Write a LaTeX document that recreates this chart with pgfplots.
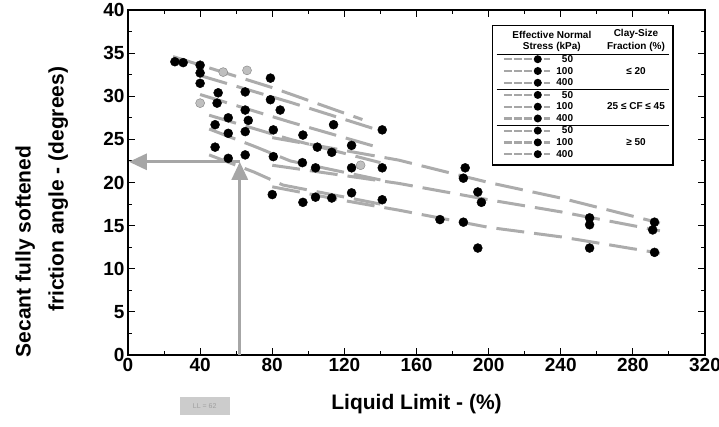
\documentclass[border=0pt]{standalone}
\usepackage{fontspec}
\setmainfont{Liberation Sans}
\usepackage{pgfplots}
\pgfplotsset{compat=1.18}
\usetikzlibrary{arrows.meta}

% measured points (liquid limit %, secant friction angle deg)
\pgfplotstableread{
ll phi
26 34.0
30.6 33.9
40 33.6
40 32.7
40 31.5
79 32.1
79 29.6
50 30.4
65 30.5
49.4 29.2
65 28.4
84.4 28.4
55.6 27.5
66.7 27.2
114 26.7
141 26.1
48.3 26.7
55.6 25.7
65 25.9
80.6 26.1
97 25.5
105 24.1
124 24.3
113 23.5
48.3 24.1
55.6 22.8
65 23.2
80.6 23.0
96.7 22.3
104 21.7
124 21.7
141 21.7
80 18.6
97 17.7
104 18.3
113 18.2
124 18.8
141 18.0
187 21.7
186 20.5
194 18.9
196 17.7
173 15.7
186 15.4
194 12.4
256 15.9
256 15.1
256 12.4
292 15.4
291 14.5
292 11.9
}\blackpts

\pgfplotstableread{
ll phi
52.8 32.8
66 33.0
40 29.2
129 22.0
}\greypts

\newcommand{\lsam}{\tikz[baseline=-0.6ex]{\draw[gray!70,line width=2.2pt,dash pattern=on 8pt off 2pt] (0,0)--(46pt,0); \fill (34pt,0) circle (4pt);}}

\begin{document}
\begin{tikzpicture}
\begin{axis}[
    width=577pt, height=345pt, scale only axis,
    xmin=0, xmax=320, ymin=0, ymax=40,
    clip=false,
    xtick={0,40,...,320}, ytick={0,5,...,40},
    minor x tick num=1, minor y tick num=1,
    major tick length=7pt, minor tick length=4pt,
    tick style={black, line width=1pt},
    axis line style={line width=1.3pt},
    ticklabel style={font=\fontsize{19}{19}\bfseries},
    /pgf/number format/assume math mode=true,
    xlabel={Liquid Limit - (\%)},
    xlabel style={font=\fontsize{21}{21}\bfseries, at={(axis description cs:0.5,-0.105)}, anchor=north},
    trend/.style={gray!65, line width=3pt, dash pattern=on 28pt off 10pt, no marks},
]
% trend lines, clay fraction <= 20
\addplot[trend] coordinates {(25,34.6) (80,31.0) (130,27.3)};
\addplot[trend] coordinates {(40,32.4) (90,29.3) (140,26.0)};
\addplot[trend] coordinates {(40,30.2) (90,27.0) (140,24.0)};
% 25 <= CF <= 45
\addplot[trend] coordinates {(45,27.8) (90,25.0) (140,22.3)};
\addplot[trend] coordinates {(45,26.2) (70,24.2) (90,22.5) (140,20.3)};
\addplot[trend] coordinates {(45,23.2) (70,21.2) (86,19.7) (140,17.5)};
% CF >= 50
\addplot[trend] coordinates {(80,25.2) (150,22.6) (200,20.0) (240,18.2) (295,15.3)};
\addplot[trend] coordinates {(80,22.0) (150,19.9) (200,18.0) (240,16.6) (295,14.4)};
\addplot[trend] coordinates {(80,19.5) (120,17.9) (150,16.8) (200,14.8) (240,13.7) (295,11.8)};

\addplot[only marks, mark=*, mark size=4.5pt, black] table {\blackpts};
\addplot[only marks, mark=*, mark size=4.5pt, draw=gray, fill=gray!50] table {\greypts};

% LL = 62 construction arrows
\draw[gray!70, line width=3pt, -{Triangle[length=18pt,width=16pt]}] (axis cs:62,0) -- (axis cs:62,22.4);
\draw[gray!70, line width=3pt, -{Triangle[length=18pt,width=16pt]}] (axis cs:62,22.4) -- (axis cs:0.5,22.4);

\node[rotate=90, font=\fontsize{21}{21}\bfseries] at (rel axis cs:-0.178,0.30) {Secant fully softened};
\node[rotate=90, font=\fontsize{21}{21}\bfseries] at (rel axis cs:-0.121,0.48) {friction angle - (degrees)};
\node[fill=gray!40, minimum width=50pt, minimum height=18pt, font=\scriptsize, text=gray!75] at (rel axis cs:0.133,-0.148) {LL = 62};
\end{axis}

\node[draw, line width=1.3pt, fill=white, anchor=north west, inner sep=4pt, font=\fontsize{10}{11}\bfseries]
  at ([xshift=364pt,yshift=-15pt]current axis.north west) {%
  \renewcommand{\arraystretch}{1.07}%
  \begin{tabular}{@{\hspace{6pt}}l@{\ \ }r@{\hspace{34pt}}c@{\hspace{4pt}}}
  \multicolumn{2}{c}{\shortstack{Effective Normal\\Stress (kPa)}} & \shortstack{Clay-Size\\Fraction (\%)}\\[1pt] \hline
  \lsam & 50 & \\
  \lsam & 100 & ≤ 20\\
  \lsam & 400 & \\ \hline
  \lsam & 50 & \\
  \lsam & 100 & 25 ≤ CF ≤ 45\\
  \lsam & 400 & \\ \hline
  \lsam & 50 & \\
  \lsam & 100 & ≥ 50\\
  \lsam & 400 & \\
  \end{tabular}};

\pgfresetboundingbox
\path[use as bounding box] ([xshift=-128pt,yshift=-72pt]current axis.south west) rectangle ([xshift=14pt,yshift=10pt]current axis.north east);
\end{tikzpicture}
\end{document}
